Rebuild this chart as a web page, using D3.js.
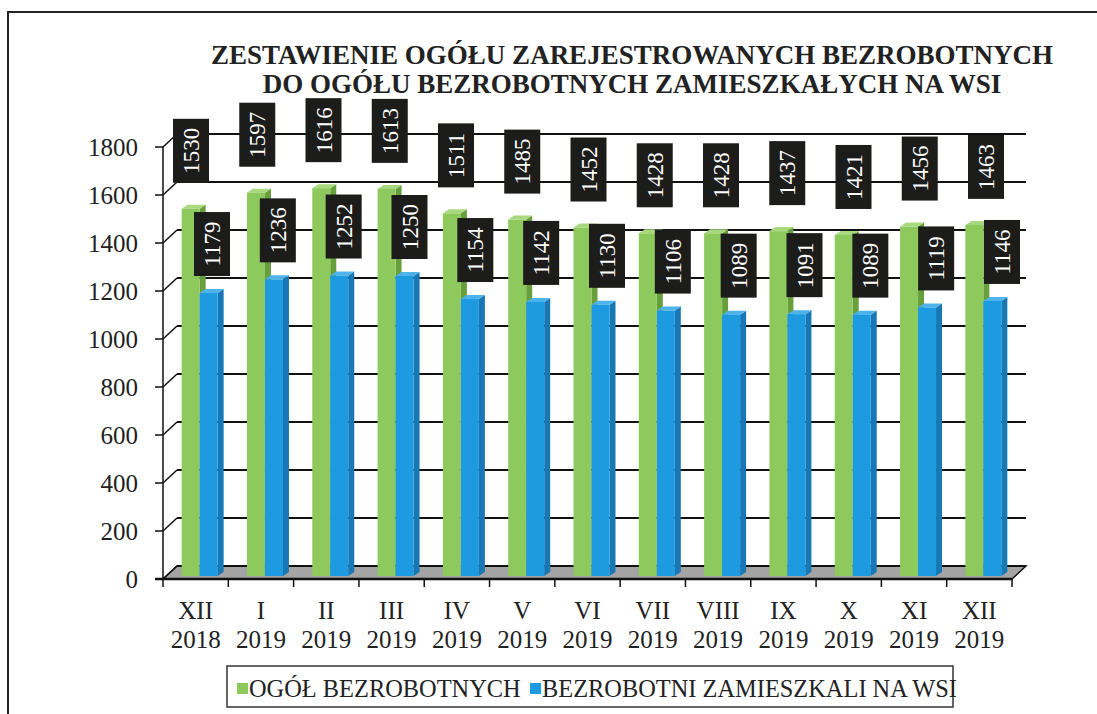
<!DOCTYPE html>
<html>
<head>
<meta charset="utf-8">
<script src="https://cdnjs.cloudflare.com/ajax/libs/d3/7.8.5/d3.min.js"></script>
<style>
  body { margin: 0; background: #fff; }
  svg { display: block; }
  text { font-family: "Liberation Serif", "Times New Roman", serif; }
</style>
</head>
<body>
<svg id="canvas"></svg>
<script>
// chart data
var months = ['XII', 'I', 'II', 'III', 'IV', 'V', 'VI', 'VII', 'VIII', 'IX', 'X', 'XI', 'XII'];
var years = ['2018', '2019', '2019', '2019', '2019', '2019', '2019', '2019', '2019', '2019', '2019', '2019', '2019'];
var ogol = [1530, 1597, 1616, 1613, 1511, 1485, 1452, 1428, 1428, 1437, 1421, 1456, 1463];
var wies = [1179, 1236, 1252, 1250, 1154, 1142, 1130, 1106, 1089, 1091, 1089, 1119, 1146];
var yTicks = [0, 200, 400, 600, 800, 1000, 1200, 1400, 1600, 1800];
var seriesNames = ['OGÓŁ BEZROBOTNYCH', 'BEZROBOTNI ZAMIESZKALI NA WSI'];
var titleLines = ['ZESTAWIENIE OGÓŁU ZAREJESTROWANYCH BEZROBOTNYCH',
                  'DO OGÓŁU BEZROBOTNYCH ZAMIESZKAŁYCH NA WSI'];

var width = 1097, height = 714;
var depthX = 14, depthY = -13;   // offset of back wall against front plane
var barW = 18, sideX = 6, sideY = -4;

var svg = d3.select('#canvas')
    .attr('width', width)
    .attr('height', height);

var keys = months.map(function (m, i) { return i; });

// scales
var x = d3.scaleBand().domain(keys).range([163, 1012]);
var yFront = d3.scaleLinear().domain([0, 1800]).range([579, 147]);
var yBack = d3.scaleLinear().domain([0, 1800]).range([579 + depthY, 147 + depthY]);
var yBar = d3.scaleLinear().domain([0, 1800]).range([576, 144]);
var labelXG = d3.scaleLinear().domain([0, 12]).range([191, 986]);
var labelXB = d3.scaleLinear().domain([0, 12]).range([212, 1002]);

// outer frame
svg.append('path')
    .attr('d', 'M8,' + height + 'V12H' + width)
    .attr('fill', 'none')
    .attr('stroke', '#222')
    .attr('stroke-width', 2);

// title
svg.append('g').selectAll('text')
    .data(titleLines)
    .enter()
    .append('text')
    .attr('x', 632)
    .attr('y', function (d, i) { return 64 + i * 29; })
    .attr('text-anchor', 'middle')
    .attr('font-size', 27)
    .attr('font-weight', 'bold')
    .attr('fill', '#222')
    .text(function (d) { return d; });

var x0 = x.range()[0], x1 = x.range()[1];

// floor
svg.append('path')
    .attr('d', 'M' + x0 + ',' + yFront(0) + 'L' + x1 + ',' + yFront(0) +
        'L' + (x1 + depthX) + ',' + yBack(0) + 'L' + (x0 + depthX) + ',' + yBack(0) + 'Z')
    .attr('fill', '#a4a4a4')
    .attr('stroke', '#111')
    .attr('stroke-width', 1.5);

// gridlines on back wall + diagonals on side wall
var grid = svg.append('g');
grid.selectAll('line.h')
    .data(yTicks)
    .enter()
    .append('line')
    .attr('class', 'h')
    .attr('x1', x0 + depthX)
    .attr('x2', x1 + depthX)
    .attr('y1', function (d) { return yBack(d); })
    .attr('y2', function (d) { return yBack(d); })
    .attr('stroke', '#111')
    .attr('stroke-width', 2);

grid.selectAll('line.d')
    .data(yTicks)
    .enter()
    .append('line')
    .attr('class', 'd')
    .attr('x1', x0)
    .attr('x2', x0 + depthX)
    .attr('y1', function (d) { return yFront(d); })
    .attr('y2', function (d) { return yBack(d); })
    .attr('stroke', '#111')
    .attr('stroke-width', 1.5);

// y axis
var yAxis = svg.append('g');
yAxis.append('line')
    .attr('x1', x0).attr('x2', x0)
    .attr('y1', yFront(1800)).attr('y2', yFront(0))
    .attr('stroke', '#111').attr('stroke-width', 1.5);
yAxis.selectAll('line.t')
    .data(yTicks)
    .enter()
    .append('line')
    .attr('class', 't')
    .attr('x1', x0 - 8).attr('x2', x0)
    .attr('y1', function (d) { return yFront(d); })
    .attr('y2', function (d) { return yFront(d); })
    .attr('stroke', '#111').attr('stroke-width', 1.5);
yAxis.selectAll('text')
    .data(yTicks)
    .enter()
    .append('text')
    .attr('x', 138)
    .attr('y', function (d) { return yFront(d) + 9; })
    .attr('text-anchor', 'end')
    .attr('font-size', 25)
    .attr('fill', '#222')
    .text(function (d) { return d; });

// x axis line + ticks
var xAxis = svg.append('g');
xAxis.append('line')
    .attr('x1', x0 - 8).attr('x2', x1)
    .attr('y1', yFront(0)).attr('y2', yFront(0))
    .attr('stroke', '#111').attr('stroke-width', 2.5);
xAxis.selectAll('line.t')
    .data(keys.concat([keys.length]))
    .enter()
    .append('line')
    .attr('class', 't')
    .attr('x1', function (d) { return x0 + d * x.step(); })
    .attr('x2', function (d) { return x0 + d * x.step(); })
    .attr('y1', yFront(0)).attr('y2', yFront(0) + 8)
    .attr('stroke', '#111').attr('stroke-width', 1.5);

var xLab = xAxis.selectAll('text')
    .data(keys)
    .enter()
    .append('text')
    .attr('text-anchor', 'middle')
    .attr('font-size', 25)
    .attr('fill', '#222');
xLab.append('tspan')
    .attr('x', function (d) { return x(d) + x.bandwidth() / 2; })
    .attr('y', 619)
    .text(function (d) { return months[d]; });
xLab.append('tspan')
    .attr('x', function (d) { return x(d) + x.bandwidth() / 2; })
    .attr('y', 648)
    .text(function (d) { return years[d]; });

// 3d bars
var colors = [
    { front: '#8ec95e', side: '#679f3c', top: '#a8d97e' },
    { front: '#1e9be0', side: '#1877b5', top: '#4db3ea' }
];

function drawBar(g, left, value, c) {
    var top = yBar(value), base = yBar(0);
    g.append('path')
        .attr('d', 'M' + (left + barW) + ',' + base + 'V' + top + 'l' + sideX + ',' + sideY +
            'V' + (base + sideY) + 'Z')
        .attr('fill', c.side);
    g.append('path')
        .attr('d', 'M' + left + ',' + top + 'h' + barW + 'l' + sideX + ',' + sideY +
            'h' + (-barW) + 'Z')
        .attr('fill', c.top);
    g.append('rect')
        .attr('x', left)
        .attr('y', top)
        .attr('width', barW)
        .attr('height', base - top)
        .attr('fill', c.front);
}

var bars = svg.append('g');
keys.forEach(function (i) {
    var cx = x(i) + x.bandwidth() / 2;
    var g = bars.append('g');
    drawBar(g, cx - 14, ogol[i], colors[0]);
    drawBar(g, cx + 4, wies[i], colors[1]);
});

// data labels: black boxes with rotated white numbers
var boxW = 36, boxH = 64;
function drawLabels(values, xs, gap) {
    var lab = svg.append('g').selectAll('g')
        .data(values)
        .enter()
        .append('g')
        .attr('transform', function (d, i) {
            return 'translate(' + xs(i) + ',' + (yBar(d) - gap - boxH / 2) + ')';
        });
    lab.append('rect')
        .attr('x', -boxW / 2).attr('y', -boxH / 2)
        .attr('width', boxW).attr('height', boxH)
        .attr('fill', '#1c1c1a');
    lab.append('text')
        .attr('transform', 'rotate(-90)')
        .attr('text-anchor', 'middle')
        .attr('dy', '0.35em')
        .attr('font-size', 23)
        .attr('fill', '#fff')
        .text(function (d) { return d; });
}
drawLabels(ogol, labelXG, 26);
drawLabels(wies, labelXB, 17);

// legend
var legend = svg.append('g');
legend.append('rect')
    .attr('x', 227).attr('y', 666)
    .attr('width', 726).attr('height', 41)
    .attr('fill', '#fff')
    .attr('stroke', '#333')
    .attr('stroke-width', 1.5);
var legX = [237, 530];
seriesNames.forEach(function (name, i) {
    legend.append('rect')
        .attr('x', legX[i]).attr('y', 683)
        .attr('width', 11).attr('height', 11)
        .attr('fill', colors[i].front);
    legend.append('text')
        .attr('x', legX[i] + 12)
        .attr('y', 697)
        .attr('font-size', 24.4)
        .attr('fill', '#222')
        .text(name);
});
</script>
</body>
</html>
